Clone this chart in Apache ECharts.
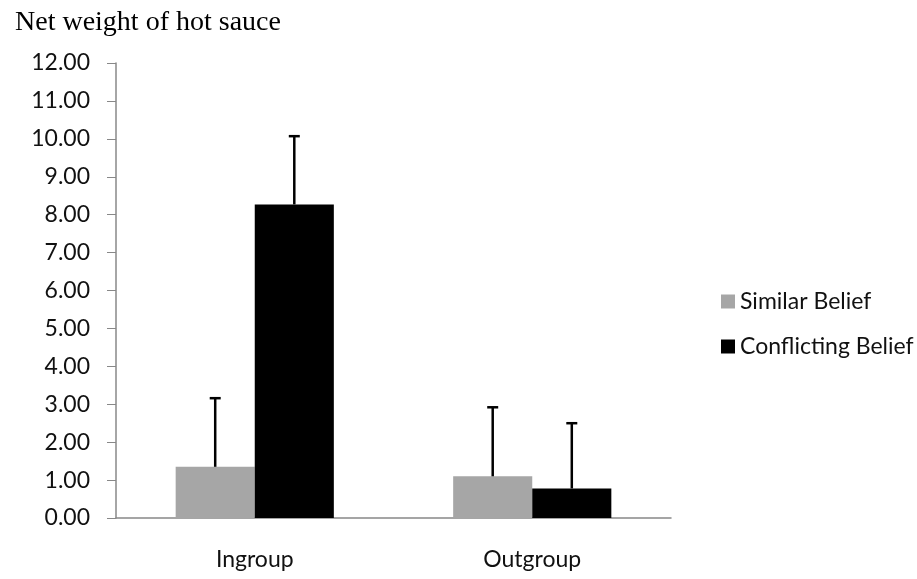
<!DOCTYPE html>
<html>
<head>
<meta charset="utf-8">
<script src="https://cdn.jsdelivr.net/npm/echarts@6/dist/echarts.min.js"></script>
<style>
  html, body { margin: 0; padding: 0; background: #fff; }
  #chart { width: 917px; height: 579px; }
</style>
</head>
<body>
<div id="chart"></div>
<script>
// data
const groups = ["Ingroup", "Outgroup"];
const similar = [1.35, 1.10];
const similarErr = [1.81, 1.82];
const conflicting = [8.27, 0.78];
const conflictingErr = [1.80, 1.72];

const barPct = 0.285; // bar width as share of category

const chart = echarts.init(document.getElementById("chart"));

// upward-only error bar with a small cap
function errorBar(side, values, errs) {
  return {
    type: "custom",
    silent: true,
    z: 5,
    data: values.map((v, i) => [i, v, v + errs[i]]),
    renderItem: (params, api) => {
      const i = api.value(0);
      const base = api.coord([i, api.value(1)]);
      const top = api.coord([i, api.value(2)]);
      const bw = api.size([1, 0])[0] * barPct;
      const x = base[0] + side * bw / 2;
      const style = { stroke: "#000", lineWidth: 2.5 };
      return {
        type: "group",
        children: [
          { type: "line", shape: { x1: x, y1: base[1], x2: x, y2: top[1] }, style },
          { type: "line", shape: { x1: x - 5.5, y1: top[1], x2: x + 5.5, y2: top[1] }, style }
        ]
      };
    }
  };
}

const option = {
  animation: false,
  title: {
    text: "Net weight of hot sauce",
    left: 10,
    top: 4,
    textStyle: {
      fontFamily: "Liberation Serif",
      fontWeight: "normal",
      fontSize: 28,
      color: "#000"
    }
  },
  legend: {
    orient: "vertical",
    left: 716,
    top: 285,
    itemWidth: 14,
    itemHeight: 14,
    itemGap: 22,
    icon: "rect",
    data: ["Similar Belief", "Conflicting Belief"],
    textStyle: { fontFamily: "Lato", fontSize: 23, color: "#111" }
  },
  grid: { left: 116, right: 246, top: 63, bottom: 61 },
  xAxis: {
    type: "category",
    data: groups,
    axisLine: { lineStyle: { color: "#888", width: 1.5 } },
    axisTick: { length: 7, lineStyle: { color: "#888" } },
    axisLabel: { margin: 30, fontFamily: "Lato", fontSize: 23, color: "#111" }
  },
  yAxis: {
    type: "value",
    min: 0,
    max: 12,
    interval: 1,
    splitLine: { show: false },
    axisLine: { show: true, lineStyle: { color: "#888", width: 1.5 } },
    axisTick: { show: true, length: 9, lineStyle: { color: "#888" } },
    axisLabel: {
      margin: 26,
      fontFamily: "Lato",
      fontSize: 23,
      color: "#111",
      formatter: (v) => v.toFixed(2)
    }
  },
  series: [
    {
      name: "Similar Belief",
      type: "bar",
      data: similar,
      barWidth: barPct * 100 + "%",
      barGap: "0%",
      itemStyle: { color: "#a6a6a6" }
    },
    {
      name: "Conflicting Belief",
      type: "bar",
      data: conflicting,
      barWidth: barPct * 100 + "%",
      barGap: "0%",
      itemStyle: { color: "#000" }
    },
    errorBar(-1, similar, similarErr),
    errorBar(1, conflicting, conflictingErr)
  ]
};

chart.setOption(option);
</script>
</body>
</html>
